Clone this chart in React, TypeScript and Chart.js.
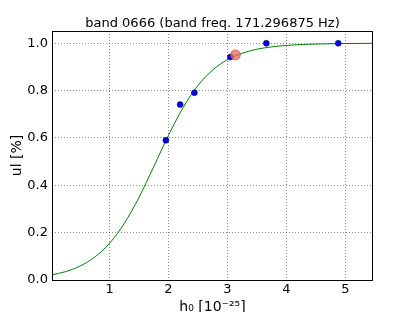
import React, { useEffect, useRef } from "react";
import { Chart, registerables } from "chart.js";

Chart.register(...registerables);

const titleText = "band 0666 (band freq. 171.296875 Hz)";
const xTitle = "h₀ [10⁻²⁵]";
const yTitle = "ul [%]";

// measured upper-limit points
const pointsX = [1.956, 2.198, 2.44, 3.05, 3.66, 4.88];
const pointsY = [0.59, 0.741, 0.791, 0.942, 1.0, 1.0];

// highlighted point
const markX = [3.135];
const markY = [0.951];

// fitted curve
const curveX = [0.024, 0.25, 0.5, 0.75, 1.0, 1.25, 1.5, 1.75, 2.0, 2.25, 2.5, 2.75, 3.0, 3.25, 3.5, 3.75, 4.0, 4.25, 4.5, 5.0, 5.47];
const curveY = [0.022, 0.035, 0.059, 0.097, 0.155, 0.239, 0.349, 0.479, 0.611, 0.729, 0.822, 0.887, 0.931, 0.958, 0.975, 0.985, 0.991, 0.995, 0.997, 0.999, 1.0];

const xTicks = [1, 2, 3, 4, 5];
const yTicks = [0, 0.2, 0.4, 0.6, 0.8, 1.0];

const FONT = "'DejaVu Sans', sans-serif";

const framePlugin = {
  id: "frame",
  afterDraw(chart: any) {
    const { ctx, chartArea } = chart;
    ctx.save();
    ctx.strokeStyle = "#000";
    ctx.lineWidth = 1;
    ctx.strokeRect(
      Math.round(chartArea.left) + 0.5,
      Math.round(chartArea.top) + 0.5,
      Math.round(chartArea.right - chartArea.left) - 1,
      Math.round(chartArea.bottom - chartArea.top)
    );
    ctx.restore();
  },
};

export default function App() {
  const ref = useRef<HTMLCanvasElement | null>(null);

  useEffect(() => {
    document.body.style.margin = "0";
    const canvas = ref.current!;
    const chart = new Chart(canvas, {
      type: "scatter",
      data: {
        datasets: [
          {
            type: "line",
            data: curveX.map((x, i) => ({ x, y: curveY[i] })),
            borderColor: "#008000",
            borderWidth: 1,
            pointRadius: 0,
            cubicInterpolationMode: "monotone",
            fill: false,
            order: 2,
          } as any,
          {
            data: pointsX.map((x, i) => ({ x, y: pointsY[i] })),
            backgroundColor: "#0000e0",
            borderColor: "#000050",
            borderWidth: 0.5,
            pointRadius: 3,
            order: 1,
          },
          {
            data: markX.map((x, i) => ({ x, y: markY[i] })),
            backgroundColor: "rgba(240,100,90,0.75)",
            borderColor: "rgba(160,60,60,0.8)",
            borderWidth: 0.7,
            pointRadius: 5,
            order: 0,
          },
        ],
      },
      options: {
        animation: false,
        responsive: false,
        layout: { padding: { left: 0, right: 42, top: 0, bottom: 0 } },
        plugins: {
          legend: { display: false },
          tooltip: { enabled: false },
          title: {
            display: true,
            text: titleText,
            color: "#000",
            font: { family: FONT, size: 13, weight: "normal", lineHeight: 1 },
            padding: { top: 17, bottom: 1 },
            fullSize: false,
          },
        },
        scales: {
          x: {
            type: "linear",
            min: 0.024,
            max: 5.47,
            afterBuildTicks: (s: any) => {
              s.ticks = xTicks.map((v) => ({ value: v }));
            },
            afterFit: (s: any) => {
              s.height = 50;
            },
            ticks: {
              color: "#000",
              font: { family: FONT, size: 13 },
              padding: 2,
              maxRotation: 0,
              callback: (v: any) => String(v),
            },
            grid: {
              color: "rgba(0,0,0,0.55)",
              lineWidth: 0.8,
              drawTicks: false,
            },
            border: { display: false, dash: [1, 2] },
            title: {
              display: true,
              text: xTitle,
              color: "#000",
              font: { family: FONT, size: 14 },
              padding: { top: 4, bottom: 14 },
            },
          },
          y: {
            type: "linear",
            min: 0,
            max: 1.052,
            afterBuildTicks: (s: any) => {
              s.ticks = yTicks.map((v) => ({ value: v }));
            },
            afterFit: (s: any) => {
              s.width = 52;
            },
            ticks: {
              color: "#000",
              font: { family: FONT, size: 13 },
              padding: 4,
              callback: (v: any) => Number(v).toFixed(1),
            },
            grid: {
              color: "rgba(0,0,0,0.55)",
              lineWidth: 0.8,
              drawTicks: false,
            },
            border: { display: false, dash: [1, 2] },
            title: {
              display: true,
              text: yTitle,
              color: "#000",
              font: { family: FONT, size: 14 },
              padding: { top: 9, bottom: 0 },
            },
          },
        },
      },
      plugins: [framePlugin],
    } as any);
    return () => chart.destroy();
  }, []);

  return (
    <div style={{ width: 415, height: 312, overflow: "hidden" }}>
      <canvas ref={ref} width={415} height={330} style={{ display: "block" }} />
    </div>
  );
}
